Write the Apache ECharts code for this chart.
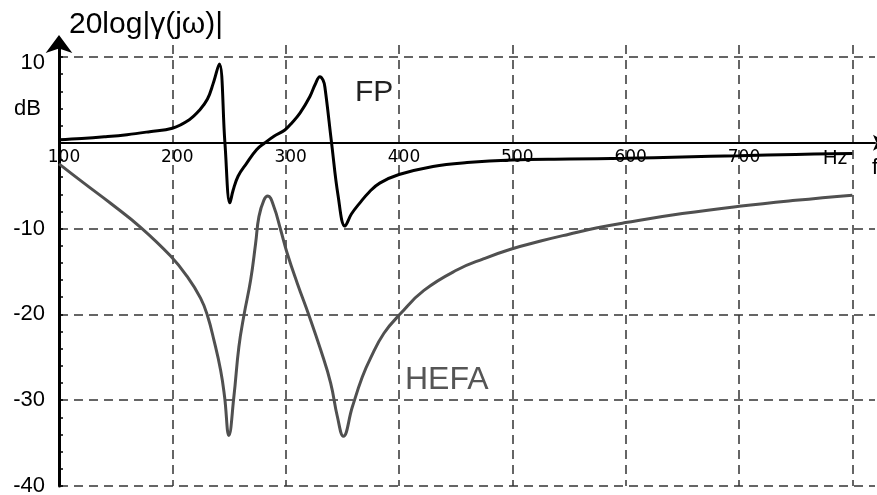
<!DOCTYPE html>
<html>
<head>
<meta charset="utf-8">
<script src="https://cdn.jsdelivr.net/npm/echarts@6/dist/echarts.min.js"></script>
<style>
html,body{margin:0;padding:0;background:#fff;}
#chart{width:877px;height:495px;}
</style>
</head>
<body>
<div id="chart"></div>
<script>
// ---- data ----
var fpFreq = [100,120,140,160,180,200,215,224,231,236,241.4,246.4,250.8,253.7,258,265.5,274.3,281.7,290,299.3,306,312.6,321.4,326,330.2,333,334.6,340.5,346.3,352.3,358,365.5,374,383,400,430,460,500,550,600,650,700,750,800];
var fpDb   = [0.35,0.5,0.7,0.95,1.3,1.7,2.7,3.8,5.1,6.9,9.2,0,-7.0,-5.5,-3.9,-2.4,-0.8,0,0.8,1.5,2.4,3.45,5.4,6.8,7.7,7.3,6.5,0,-6.2,-9.7,-8.3,-7.0,-5.7,-4.7,-3.7,-2.75,-2.3,-2.0,-1.9,-1.8,-1.65,-1.5,-1.35,-1.25];

var hefaFreq = [100,122,145.5,172,198.5,213.2,224.9,230.9,236.7,242.6,246.1,249.9,254.3,258.7,263.2,269.1,273.5,276.4,280.8,284.3,289.6,295.5,301.4,310.3,320.5,330.8,339.7,345.6,350.9,358.8,367.6,374.9,386.7,401.4,422,451.5,475,498.5,525,550,575,600,650,700,750,800];
var hefaDb   = [-2.45,-4.7,-7.05,-9.85,-13.2,-15.6,-18.1,-20.1,-23.0,-26.5,-29.6,-34.1,-29.6,-23.8,-20.1,-16.0,-11.7,-8.6,-6.67,-6.2,-7.45,-10.1,-12.9,-16.4,-20.1,-24.1,-28.0,-31.9,-34.2,-30.8,-27.3,-25.1,-22.2,-19.9,-17.2,-14.8,-13.5,-12.4,-11.45,-10.65,-9.9,-9.3,-8.25,-7.4,-6.7,-6.1];

var xTicks = [100,200,300,400,500,600,700,800];
var xTickLabels = ['100','200','300','400','500','600','700','Hz'];
var yTicks = [-40,-30,-20,-10,0,10];
var yTickLabels = ['-40','-30','-20','-10','','10'];

function pairs(xs, ys){ return xs.map(function(x,i){ return [x, ys[i]]; }); }

var font = 'Liberation Sans, Arial, sans-serif';
var wideFont = '"DejaVu Sans", Verdana, sans-serif';
var Y_MIN = -40, Y_MAX = 11.4;
var G_TOP = 45, G_BOTTOM = 9, G_LEFT = 59, G_RIGHT = 2;
var gridH = 495 - G_TOP - G_BOTTOM;
var xAxisOffset = -gridH * (0 - Y_MIN) / (Y_MAX - Y_MIN); // put the x axis on the 0 dB line

var chart = echarts.init(document.getElementById('chart'), null, {renderer:'canvas'});

chart.setOption({
  animation:false,
  backgroundColor:'#fff',
  title:[
    {text:'20log|γ(jω)|', left:64, top:5, textStyle:{fontSize:30, fontWeight:'normal', fontFamily:font, color:'#000'}},
    {text:'dB', left:9, top:93, textStyle:{fontSize:22, fontWeight:'normal', fontFamily:font, color:'#000'}},
    {text:'FP', left:350, top:73, textStyle:{fontSize:30, fontWeight:'normal', fontFamily:font, color:'#222'}},
    {text:'HEFA', left:400, top:359, textStyle:{fontSize:32, fontWeight:'normal', fontFamily:font, color:'#555'}},
    {text:'f', left:867, top:152, textStyle:{fontSize:22, fontWeight:'normal', fontFamily:font, color:'#000'}}
  ],
  grid:{left:G_LEFT, right:G_RIGHT, top:G_TOP, bottom:G_BOTTOM, containLabel:false, outerBoundsMode:'none'},
  xAxis:{
    type:'value', min:100, max:820, interval:100, position:'bottom', offset:xAxisOffset,
    axisLine:{show:true, onZero:false, symbol:['none','arrow'], symbolSize:[12,14], symbolOffset:[0,12], lineStyle:{color:'#000', width:2}},
    axisTick:{show:false},
    axisLabel:{
      show:true, margin:6, color:'#000', fontSize:17, fontFamily:wideFont, showMaxLabel:false, padding:[0,0,0,10],
      formatter:function(v){ var i = xTicks.indexOf(v); if(i<0) return ''; if(xTickLabels[i]==='Hz') return '{hz|Hz}'; return xTickLabels[i]; },
      rich:{hz:{fontSize:20, fontFamily:font, color:'#000', padding:[0,44,0,0]}}
    },
    splitLine:{show:true, lineStyle:{color:'#333', width:1.5, type:[9,6]}, showMinLine:false, showMaxLine:false}
  },
  yAxis:{
    type:'value', min:Y_MIN, max:Y_MAX, interval:10,
    axisLine:{show:true, onZero:false, symbol:['none','arrow'], symbolSize:[20,18], symbolOffset:[0,10], lineStyle:{color:'#000', width:3}},
    axisTick:{show:true, inside:true, length:4, lineStyle:{color:'#000', width:1.5}},
    minorTick:{show:true, splitNumber:5, length:4, lineStyle:{color:'#000', width:1.5}},
    axisLabel:{
      show:true, margin:14, color:'#000', fontSize:22, fontFamily:font, showMaxLabel:false,
      formatter:function(v){ var i = yTicks.indexOf(v); if(i<0) return ''; if(v===10) return '{top|' + yTickLabels[i] + '}'; return yTickLabels[i]; },
      rich:{top:{fontSize:22, fontFamily:font, color:'#000', padding:[12,0,0,0]}}
    },
    splitLine:{show:true, lineStyle:{color:'#333', width:1.5, type:[9,6]}, showMaxLine:false}
  },
  series:[
    {name:'FP', type:'line', data:pairs(fpFreq, fpDb), showSymbol:false, smooth:0.4,
     lineStyle:{color:'#000', width:3}, z:5},
    {name:'HEFA', type:'line', data:pairs(hefaFreq, hefaDb), showSymbol:false, smooth:0.45,
     lineStyle:{color:'#505050', width:3}, z:4}
  ]
});
</script>
</body>
</html>
